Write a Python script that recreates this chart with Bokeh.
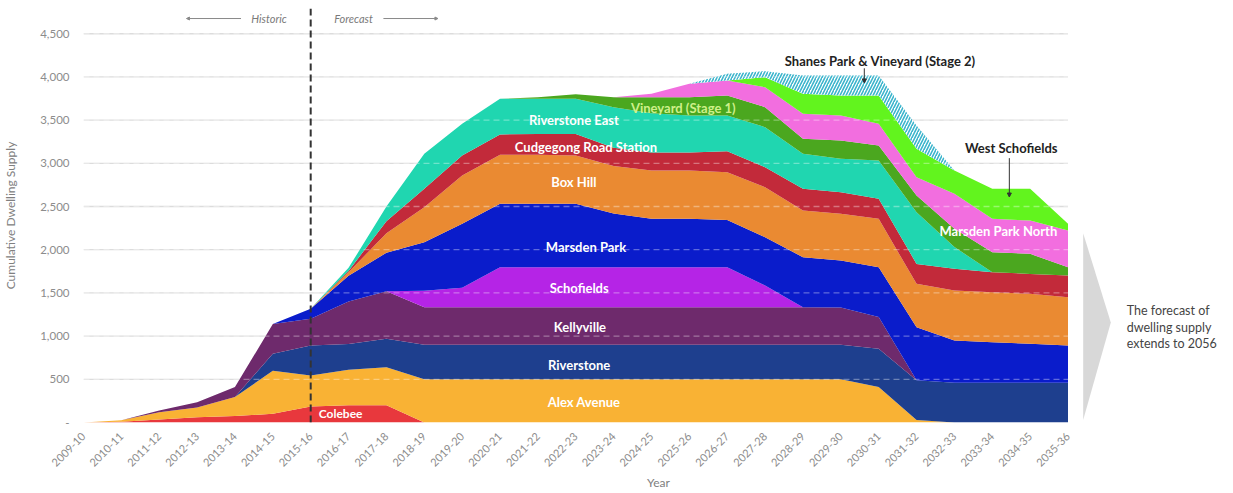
import math
from bokeh.plotting import figure
from bokeh.models import (ColumnDataSource, Range1d, FixedTicker, NumeralTickFormatter,
                          Label, Arrow, NormalHead, PolyAnnotation)
from bokeh.transform import stack
from bokeh.embed import file_html
from bokeh.resources import INLINE

years = ["2009-10", "2010-11", "2011-12", "2012-13", "2013-14", "2014-15", "2015-16",
         "2016-17", "2017-18", "2018-19", "2019-20", "2020-21", "2021-22", "2022-23",
         "2023-24", "2024-25", "2025-26", "2026-27", "2027-28", "2028-29", "2029-30",
         "2030-31", "2031-32", "2032-33", "2033-34", "2034-35", "2035-36"]

colebee        = [0, 10, 35, 60, 75, 100, 185, 200, 200, 0, 0, 0, 0, 0, 0, 0, 0, 0, 0, 0, 0, 0, 0, 0, 0, 0, 0]
alex_avenue    = [0, 15, 85, 115, 220, 500, 360, 410, 440, 500, 500, 500, 500, 500, 500, 500, 500, 500, 500, 500, 500, 410, 30, 0, 0, 0, 0]
riverstone     = [0, 0, 0, 0, 0, 195, 346, 300, 328, 400, 400, 400, 400, 400, 400, 400, 400, 400, 400, 400, 400, 445, 460, 460, 460, 460, 460]
kellyville     = [0, 0, 20, 60, 115, 345, 309, 490, 552, 435, 435, 435, 435, 435, 435, 435, 435, 435, 435, 435, 430, 365, 0, 0, 0, 0, 0]
schofields     = [0, 0, 0, 0, 0, 0, 0, 0, 0, 190, 225, 463, 463, 463, 463, 463, 463, 463, 251, 0, 0, 0, 0, 0, 0, 0, 0]
marsden_park   = [0, 0, 0, 0, 0, 0, 116, 300, 445, 562, 740, 733, 733, 733, 622, 559, 559, 547, 559, 578, 545, 578, 613, 489, 470, 451, 431]
box_hill       = [0, 0, 0, 0, 0, 0, 0, 40, 225, 405, 559, 569, 569, 559, 550, 560, 560, 552, 579, 541, 540, 559, 502, 579, 578, 578, 559]
cudgegong      = [0, 0, 0, 0, 0, 0, 0, 15, 140, 213, 231, 235, 240, 250, 210, 208, 208, 243, 231, 251, 251, 232, 231, 251, 232, 231, 251]
riverstone_e   = [0, 0, 0, 0, 0, 0, 0, 35, 170, 405, 367, 411, 406, 406, 470, 455, 428, 413, 463, 405, 386, 443, 598, 251, 0, 0, 0]
vineyard_1     = [0, 0, 0, 0, 0, 0, 0, 0, 0, 0, 0, 0, 20, 54, 115, 185, 212, 232, 232, 173, 212, 174, 193, 212, 231, 232, 97]
marsden_north  = [0, 0, 0, 0, 0, 0, 0, 0, 0, 0, 0, 0, 0, 0, 0, 40, 155, 173, 231, 290, 290, 251, 212, 405, 386, 386, 424]
west_schofield = [0, 0, 0, 0, 0, 0, 0, 0, 0, 0, 0, 0, 0, 0, 0, 0, 0, 0, 116, 231, 231, 328, 329, 270, 348, 367, 78]
shanes_park    = [0, 0, 0, 0, 0, 0, 0, 0, 0, 0, 0, 0, 0, 0, 0, 0, 0, 80, 69, 212, 231, 231, 269, 0, 0, 0, 0]

y_ticks = [0, 500, 1000, 1500, 2000, 2500, 3000, 3500, 4000, 4500]

names = ["Colebee", "Alex Avenue", "Riverstone", "Kellyville", "Schofields", "Marsden Park",
         "Box Hill", "Cudgegong Road Station", "Riverstone East", "Vineyard (Stage 1)",
         "Marsden Park North", "West Schofields"]
hatched_name = "Shanes Park & Vineyard (Stage 2)"
series = [colebee, alex_avenue, riverstone, kellyville, schofields, marsden_park, box_hill,
          cudgegong, riverstone_e, vineyard_1, marsden_north, west_schofield]
colors = ["#E8383D", "#F9B234", "#1E3F8E", "#6E2A6C", "#B524E6", "#0A1CCB",
          "#EA8A32", "#C22A3A", "#20D6B0", "#4BA71F", "#F26EDF", "#62F41E"]

data = {"x": list(range(len(years)))}
for n, s in zip(names, series):
    data[n] = s
data[hatched_name] = shanes_park
source = ColumnDataSource(data)

Y_TOP = 4792
p = figure(width=1233, height=493, x_range=Range1d(0, 30.37), y_range=Range1d(0, Y_TOP),
           output_backend="svg", toolbar_location=None,
           min_border_left=76, min_border_right=0, min_border_top=8, min_border_bottom=71)
p.outline_line_color = None
p.xgrid.grid_line_color = None
p.ygrid.grid_line_color = None

grid_src = ColumnDataSource(dict(y=y_ticks[1:], x0=[0] * (len(y_ticks) - 1),
                                 x1=[len(years) - 1] * (len(y_ticks) - 1)))
p.segment(x0="x0", x1="x1", y0="y", y1="y", source=grid_src, line_color="#DCDCDC", line_width=1.3)

p.varea_stack(stackers=names, x="x", color=colors, source=source)
p.varea(x="x", y1=stack(*names), y2=stack(*(names + [hatched_name])), source=source,
        fill_color="white", hatch_pattern="/", hatch_color="#3AB4CC",
        hatch_weight=1.6, hatch_scale=6)

p.segment(x0="x0", x1="x1", y0="y", y1="y", source=grid_src, line_color="white",
          line_alpha=0.35, line_width=1.3, line_dash="6 4")

# dashed divider between historic and forecast (at 2015-16)
p.add_layout(Arrow(x_start=6, y_start=0, x_end=6, y_end=Y_TOP, end=None,
                   line_color="#333333", line_width=2, line_dash="7 4"))

# axes
p.yaxis.ticker = FixedTicker(ticks=y_ticks)
p.yaxis.formatter = NumeralTickFormatter(format="0,0")
p.yaxis.major_label_overrides = {0: "-"}
p.xaxis.ticker = FixedTicker(ticks=list(range(len(years))))
p.xaxis.major_label_overrides = {i: y for i, y in enumerate(years)}
p.xaxis.major_label_orientation = math.pi / 4
for ax in (p.xaxis, p.yaxis):
    ax.axis_line_color = None
    ax.major_tick_line_color = None
    ax.minor_tick_line_color = None
    ax.major_label_text_color = "#8C8C8C"
    ax.major_label_text_font = "Lato"
    ax.axis_label_text_color = "#808080"
    ax.axis_label_text_font = "Lato"
    ax.axis_label_text_font_style = "normal"
    ax.axis_label_text_font_size = "12px"
p.yaxis.major_label_text_font_size = "11.5px"
p.yaxis.major_label_standoff = 8
p.yaxis.axis_label = "Cumulative Dwelling Supply"
p.yaxis.axis_label_standoff = 19
p.xaxis.major_label_text_font_size = "11px"
p.xaxis.major_label_standoff = 6
p.xaxis.axis_label = "Year"
p.xaxis.axis_label_standoff = 2

def lab(x, y, text, color="white", size="13px", style="bold", align="center"):
    p.add_layout(Label(x=x, y=y, text=text, text_color=color, text_font="Lato",
                       text_font_size=size, text_font_style=style, text_align=align,
                       text_baseline="middle"))

lab(6.79, 104, "Colebee", size="12px")
lab(13.22, 243, "Alex Avenue")
lab(13.09, 660, "Riverstone")
lab(13.11, 1111, "Kellyville")
lab(13.09, 1562, "Schofields")
lab(13.27, 2037, "Marsden Park")
lab(12.95, 2778, "Box Hill")
lab(13.27, 3194, "Cudgegong Road Station")
lab(12.95, 3507, "Riverstone East")
lab(15.84, 3646, "Vineyard (Stage 1)", color="#CFF08A")
lab(24.16, 2211, "Marsden Park North")
lab(24.5, 3183, "West Schofields", color="#222222")
lab(21.04, 4190, "Shanes Park & Vineyard (Stage 2)", color="#222222")

p.add_layout(Arrow(x_start=24.45, y_start=3060, x_end=24.45, y_end=2610,
                   line_color="#333333", line_width=1,
                   end=NormalHead(size=4, fill_color="#333333", line_color="#333333")))
p.add_layout(Arrow(x_start=20.62, y_start=4100, x_end=20.62, y_end=3930,
                   line_color="#333333", line_width=1,
                   end=NormalHead(size=4, fill_color="#333333", line_color="#333333")))

# historic / forecast
lab(4.9, 4676, "Historic", color="#7A7A7A", size="11px", style="italic")
lab(7.13, 4676, "Forecast", color="#7A7A7A", size="11px", style="italic")
p.add_layout(Arrow(x_start=4.16, y_start=4676, x_end=2.72, y_end=4676,
                   line_color="#8A8A8A", line_width=1,
                   end=NormalHead(size=3, fill_color="#8A8A8A", line_color="#8A8A8A")))
p.add_layout(Arrow(x_start=7.92, y_start=4676, x_end=9.36, y_end=4676,
                   line_color="#8A8A8A", line_width=1,
                   end=NormalHead(size=3, fill_color="#8A8A8A", line_color="#8A8A8A")))

# right-side note
p.add_layout(PolyAnnotation(xs=[26.4, 27.13, 26.4], ys=[2190, 1157, 30],
                            fill_color="#D8D8D8", fill_alpha=1, line_color=None))
lab(27.55, 1296, "The forecast of", color="#444444", size="12.5px", style="normal", align="left")
lab(27.55, 1099, "dwelling supply", color="#444444", size="12.5px", style="normal", align="left")
lab(27.55, 914, "extends to 2056", color="#444444", size="12.5px", style="normal", align="left")

open("out.html", "w").write(file_html(p, INLINE))
